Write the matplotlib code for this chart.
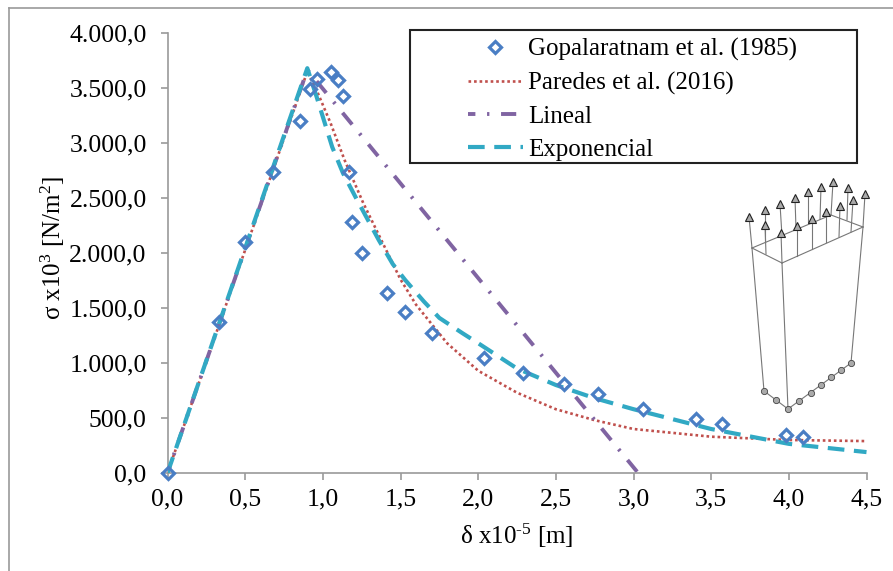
import matplotlib
matplotlib.use("Agg")
import matplotlib.pyplot as plt
from matplotlib.lines import Line2D
from matplotlib.patches import Rectangle

plt.rcParams["font.family"] = ["Liberation Serif", "DejaVu Serif"]
plt.rcParams["mathtext.fontset"] = "custom"
plt.rcParams["mathtext.rm"] = "Liberation Serif"
plt.rcParams["mathtext.default"] = "rm"

# data
gop_x = [0, 0.33, 0.5, 0.68, 0.85, 0.92, 0.96, 1.05, 1.10, 1.13, 1.17, 1.19, 1.25,
         1.41, 1.53, 1.70, 2.04, 2.29, 2.55, 2.77, 3.06, 3.40, 3.57, 3.98, 4.09]
gop_y = [0, 1370, 2100, 2740, 3200, 3490, 3580, 3650, 3570, 3430, 2740, 2280, 2000,
         1640, 1460, 1270, 1050, 910, 810, 720, 580, 490, 450, 350, 330]
par_x = [0, 0.9, 0.96, 1.05, 1.14, 1.26, 1.37, 1.5, 1.6, 1.8, 2.0, 2.25, 2.5, 2.75, 3.0, 3.5, 4.0, 4.5]
par_y = [0, 3650, 3480, 3180, 2845, 2455, 2136, 1760, 1530, 1180, 930, 730, 580, 480, 400, 330, 300, 290]
lin_x = [0, 0.9, 3.03]
lin_y = [0, 3665, 0]
exp_x = [0, 0.9, 0.96, 1.06, 1.13, 1.21, 1.36, 1.45, 1.53, 1.65, 1.75, 1.9, 2.0, 2.25, 2.5, 2.75, 3.0, 3.5, 4.0, 4.5]
exp_y = [0, 3680, 3420, 2965, 2725, 2510, 2118, 1900, 1755, 1560, 1410, 1270, 1180, 950, 800, 680, 580, 400, 265, 190]

x_ticks = [0, 0.5, 1, 1.5, 2, 2.5, 3, 3.5, 4, 4.5]
x_labels = ["0,0", "0,5", "1,0", "1,5", "2,0", "2,5", "3,0", "3,5", "4,0", "4,5"]
y_ticks = [0, 500, 1000, 1500, 2000, 2500, 3000, 3500, 4000]
y_labels = ["0,0", "500,0", "1.000,0", "1.500,0", "2.000,0", "2.500,0", "3.000,0", "3.500,0", "4.000,0"]

# inset sketch, in picture pixels
box_lines = [
    ([752, 782], [248, 263]), ([782, 863], [263, 227]), ([863, 831], [227, 215]), ([831, 752], [215, 248]),
    ([752, 764], [248, 391]), ([782, 788], [263, 409]), ([863, 851], [227, 363]),
    ([764, 788], [391, 409]), ([788, 851], [409, 363]),
]
tip_x = [749, 765, 765, 780, 781, 795, 797, 808, 812, 821, 826, 833, 840, 848, 853, 865]
tip_y = [217, 210, 225, 204, 233, 198, 226, 192, 219, 187, 212, 182, 206, 188, 200, 194]
foot_x = [752, 765, 766, 782, 782, 796, 797, 808, 812, 820, 826, 831, 839, 847, 851, 863]
foot_y = [248, 242, 254, 236, 263, 229, 256, 223, 249, 219, 242, 215, 237, 220, 232, 227]
base_x = [764, 776, 788, 799, 811, 821, 831, 841, 851]
base_y = [391, 400, 409, 401, 393, 385, 377, 370, 363]

W, H = 893, 571
GREY = "#9a9a9a"
FS = 18
par_style = dict(color="#c0504d", ls=(0, (1, 1.1)), lw=1.9)
lin_style = dict(color="#8064a2", ls=(2, (3.9, 3, 0.6, 3)), lw=2.8)
exp_style = dict(color="#31a9c4", ls=(0, (4, 2.3)), lw=3)
gop_style = dict(ls="none", marker="D", ms=6.3, mfc="none", mec="#4a7ec4", mew=2.3)

fig = plt.figure(figsize=(W / 100, H / 100), dpi=100)
fig.add_artist(Line2D([9 / W, 9 / W], [0, 1 - 8 / H], color=GREY, lw=1.2))
fig.add_artist(Line2D([9 / W, 1], [1 - 8 / H, 1 - 8 / H], color=GREY, lw=1.2))

ax = fig.add_axes([167.5 / W, 1 - 473 / H, (866.5 - 167.5) / W, (473 - 33) / H])
ax.plot(par_x, par_y, zorder=2, **par_style)
ax.plot(lin_x, lin_y, zorder=2, **lin_style)
ax.plot(exp_x, exp_y, zorder=3, **exp_style)
ax.plot(gop_x, gop_y, zorder=4, clip_on=False, **gop_style)

ax.set_xlim(0, 4.5)
ax.set_ylim(0, 4000)
ax.set_xticks(x_ticks, x_labels)
ax.set_yticks(y_ticks, y_labels)
ax.tick_params(labelsize=18.5, color=GREY, length=5, width=1.2, direction="out")
ax.tick_params(axis="y", pad=10)
ax.tick_params(axis="x", pad=6)
for s in ["top", "right"]:
    ax.spines[s].set_visible(False)
for s in ["left", "bottom"]:
    ax.spines[s].set_color(GREY)
    ax.spines[s].set_linewidth(1.2)

fig.text(516.5 / W, 1 - 536 / H, r"δ x10$^{\text{-5}}$ [m]", fontsize=FS, ha="center", va="center")
fig.text(53 / W, 1 - 248 / H, r"σ x10$^{3}$ [N/m$^{2}$]", fontsize=FS, ha="center", va="center", rotation=90)

# legend frame is fixed in pixels, entries sit on top of it
sk = fig.add_axes([0, 0, 1, 1], facecolor="none")
sk.set_xlim(0, W)
sk.set_ylim(H, 0)
sk.axis("off")
sk.add_patch(Rectangle((410, 30), 447, 133, fc="white", ec="#222222", lw=1.5))

handles = [Line2D([], [], **gop_style), Line2D([], [], **par_style),
           Line2D([], [], **lin_style), Line2D([], [], **exp_style)]
labels = ["Gopalaratnam et al. (1985)", "Paredes et al. (2016)", "Lineal", "Exponencial"]
leg = sk.legend(handles, labels, loc="upper left", bbox_to_anchor=(463 / W, 1 - 33 / H), borderaxespad=0,
                fontsize=FS, frameon=False, handlelength=2.2, labelspacing=0.42, borderpad=0.2,
                handletextpad=0.2)

# inset sketch
for xs, ys in box_lines:
    sk.plot(xs, ys, color="#777777", lw=0.8)
for x0, y0, x1, y1 in zip(foot_x, foot_y, tip_x, tip_y):
    sk.plot([x0, x1], [y0, y1], color="#777777", lw=0.8)
sk.plot(tip_x, tip_y, ls="none", marker="^", ms=5.5, mfc="#aaaaaa", mec="#222222", mew=0.8)
sk.plot(base_x, base_y, ls="none", marker="o", ms=4.5, mfc="#aaaaaa", mec="#444444", mew=0.6)

fig.savefig("out.png", dpi=100)
